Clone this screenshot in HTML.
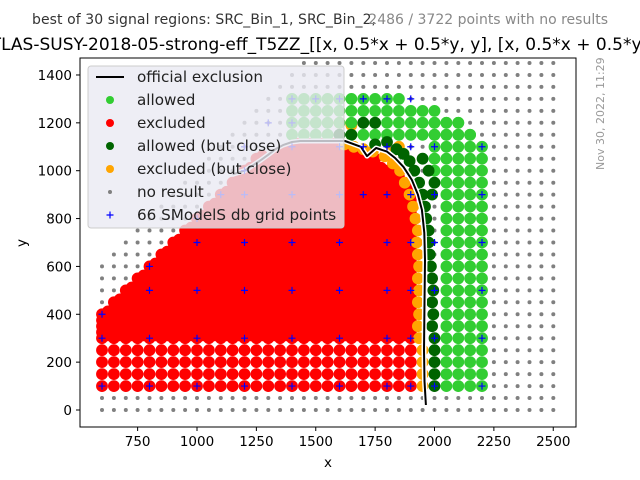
<!DOCTYPE html>
<html><head><meta charset="utf-8"><style>
body{margin:0;background:#fff;width:640px;height:480px;overflow:hidden;font-family:"DejaVu Sans","Liberation Sans",sans-serif}
svg{position:absolute;left:0;top:0}
</style></head><body>
<svg id="chart" width="640" height="480">
<defs><clipPath id="clip"><rect x="80" y="58" width="496" height="369"/></clipPath></defs>
<text x="32" y="24" font-size="14" fill="#333" textLength="344">best of 30 signal regions: SRC_Bin_1, SRC_Bin_2,</text>
<text x="608" y="24" font-size="14" text-anchor="end" fill="#888">2486 / 3722 points with no results</text>
<text x="328" y="50" font-size="17" text-anchor="middle" fill="#000">ATLAS-SUSY-2018-05-strong-eff_T5ZZ_[[x, 0.5*x + 0.5*y, y], [x, 0.5*x + 0.5*y, y]]</text>
<text transform="translate(604,170) rotate(-90)" font-size="11" fill="#999">Nov 30, 2022, 11:29</text>
<g id="marks" clip-path="url(#clip)"></g>
<rect x="80" y="58" width="496" height="369" fill="none" stroke="#000" stroke-width="1"/>
<g id="axes"></g>
<g id="legend"></g>
<text x="328" y="467" font-size="13.5" text-anchor="middle">x</text>
<text transform="translate(26,243) rotate(-90)" font-size="13.5" text-anchor="middle">y</text>
</svg>
<script>
const gridCols=[600,650,700,750,800,850,900,950,1000,1050,1100,1150,1200,1250,1300,1350,1400,1450,1500,1550,1600,1650,1700,1750,1800,1850,1900,1950,2000,2050,2100,2150,2200,2250,2300,2350,2400,2450,2500];
const grayTop=[600,650,700,750,800,850,900,950,1000,1050,1100,1150,1200,1250,1300,1350,1400,1450,1450,1450,1450,1450,1450,1450,1450,1450,1450,1450,1450,1450,1450,1450,1450,1450,1450,1450,1450,1450,1450];
const redCols=[600,650,700,750,800,850,900,950,1000,1050,1100,1150,1200,1250,1300,1350,1400,1450,1500,1550,1600,1650,1700,1750,1800,1850,1900];
const redTop=[400,450,500,550,600,650,700,750,800,850,900,950,1000,1050,1050,1075,1100,1100,1100,1100,1100,1075,1050,1050,1000,975,925];
const orangePts=[[1950,100],[1950,150],[1950,200],[1950,250],[1935,300],[1930,350],[1935,400],[1930,450],[1935,500],[1930,550],[1935,600],[1930,650],[1925,700],[1930,750],[1920,800],[1910,850],[1895,900],[1875,950],[1855,1000],[1825,1030],[1790,1060],[1740,1080],[1700,1090],[1660,1100],[1620,1110],[1650,1190],[1600,1200],[1850,1100],[1820,1080]];
const darkPts=[[2000,100],[2000,150],[2000,200],[2000,250],[2000,300],[1990,350],[1995,400],[1990,450],[1995,500],[1990,550],[1985,600],[1980,650],[1975,700],[1975,750],[1965,800],[1960,850],[1950,900],[1935,950],[1915,1000],[1895,1040],[1870,1070],[1840,1090],[1800,1120],[1750,1110],[1750,1200],[1650,1150],[1600,1150],[1700,1200],[1950,1050],[1975,1000],[2000,950],[1990,900]];
const greenCols=[2000,2050,2100,2150,2200];
const greenTop=[1200,1200,1200,1150,1100];
const greenBottom=[1000,100,100,100,100];
const greenRows=[1300,1250,1200,1150];
const greenRowFrom=[1400,1400,1400,1400];
const greenRowTo=[1850,2000,2100,2150];
const plusPts=[[600,100],[800,100],[1000,100],[1200,100],[1400,100],[1600,100],[1800,100],[1900,100],[2000,100],[2200,100],
[600,300],[800,300],[1000,300],[1200,300],[1400,300],[1600,300],[1800,300],[1900,300],[2000,300],[2200,300],
[600,400],[800,500],[1000,500],[1200,500],[1400,500],[1600,500],[1800,500],[1900,500],[2000,500],[2200,500],
[800,600],[1000,700],[1200,700],[1400,700],[1600,700],[1800,700],[1900,700],[2000,700],[2200,700],
[1000,800],[1200,900],[1400,900],[1600,900],[1700,900],[1800,900],[1900,900],[2000,900],[2200,900],
[1200,1000],[1400,1100],[1600,1100],[1700,1100],[1800,1100],[1900,1100],[2000,1100],[2200,1100],
[1400,1300],[1500,1300],[1600,1300],[1700,1300],[1800,1300],[1900,1300],[1300,1200],[1400,1200],[1200,1100],[1100,900]];
const exclX=[1150,1200,1232,1270,1299,1330,1362,1400,1434,1520,1623,1690,1716,1754,1800,1834,1870,1905,1930,1947,1957,1960,1958,1956,1958,1964];
const exclY=[985,1000,1020,1045,1066,1090,1107,1120,1124,1124,1124,1100,1061,1095,1080,1053,1015,961,900,836,740,627,450,251,120,21];
const xTicks=[750,1000,1250,1500,1750,2000,2250,2500];
const yTicks=[0,200,400,600,800,1000,1200,1400];

const sx=v=>197+(v-1000)*0.2375;
const sy=v=>410-v*0.2393;
const NS='http://www.w3.org/2000/svg';
const marks=document.getElementById('marks');
function circ(x,y,r,fill,name){const c=document.createElementNS(NS,'circle');c.setAttribute('cx',sx(x).toFixed(1));c.setAttribute('cy',sy(y).toFixed(1));c.setAttribute('r',r);c.setAttribute('fill',fill);


marks.appendChild(c);}
gridCols.forEach((x,i)=>{for(let y=0;y<=grayTop[i];y+=50)circ(x,y,2,'#808080','no-result-point');});
const R=5.9;
redCols.forEach((x,i)=>{for(let y=100;y<=250;y+=50)circ(x,y,R,'#ff0000','excluded-point');});
redCols.forEach((x,i)=>{for(let y=300;y<=redTop[i];y+=25){circ(x,y,R,'#ff0000','excluded-point');if(i<redCols.length-1&&y<=redTop[i+1])circ(x+25,y+12,R,'#ff0000','excluded-point');}});
orangePts.forEach(p=>circ(p[0],p[1],R,'#ffa500','excluded-close-point'));
greenCols.forEach((x,i)=>{for(let y=greenBottom[i];y<=greenTop[i];y+=50)circ(x,y,R,'#32cd32','allowed-point');});
greenRows.forEach((y,i)=>{for(let x=greenRowFrom[i];x<=greenRowTo[i];x+=50)circ(x,y,R,'#32cd32','allowed-point');});
darkPts.forEach(p=>circ(p[0],p[1],R,'#006400','allowed-close-point'));
let d=exclX.map((x,i)=>(i?'L':'M')+sx(x).toFixed(1)+','+sy(exclY[i]).toFixed(1)).join(' ');
const halo=document.createElementNS(NS,'path');halo.setAttribute('d',d);halo.setAttribute('fill','none');halo.setAttribute('stroke','#fff');halo.setAttribute('stroke-width','5');halo.setAttribute('stroke-linejoin','round');


marks.appendChild(halo);
const ln=document.createElementNS(NS,'path');ln.setAttribute('d',d);ln.setAttribute('fill','none');ln.setAttribute('stroke','#000');ln.setAttribute('stroke-width','2');ln.setAttribute('stroke-linejoin','round');


marks.appendChild(ln);
plusPts.forEach(p=>{const t=document.createElementNS(NS,'path');const X=sx(p[0]),Y=sy(p[1]);t.setAttribute('d',`M${X-3.5},${Y}H${X+3.5}M${X},${Y-3.5}V${Y+3.5}`);t.setAttribute('stroke','#0000ff');t.setAttribute('stroke-width','1.2');


marks.appendChild(t);});
const axes=document.getElementById('axes');
xTicks.forEach(v=>{const X=sx(v);const l=document.createElementNS(NS,'line');l.setAttribute('x1',X);l.setAttribute('x2',X);l.setAttribute('y1',427);l.setAttribute('y2',431);l.setAttribute('stroke','#000');


axes.appendChild(l);const t=document.createElementNS(NS,'text');t.setAttribute('x',X);t.setAttribute('y',446);t.setAttribute('font-size','13.5');t.setAttribute('text-anchor','middle');t.textContent=v;


axes.appendChild(t);});
yTicks.forEach(v=>{const Y=sy(v);const l=document.createElementNS(NS,'line');l.setAttribute('x1',76);l.setAttribute('x2',80);l.setAttribute('y1',Y);l.setAttribute('y2',Y);l.setAttribute('stroke','#000');


axes.appendChild(l);const t=document.createElementNS(NS,'text');t.setAttribute('x',72);t.setAttribute('y',Y+5);t.setAttribute('font-size','13.5');t.setAttribute('text-anchor','end');t.textContent=v;


axes.appendChild(t);});
const lg=document.getElementById('legend');
lg.innerHTML=`<rect x="88" y="66" width="256" height="162" rx="3" fill="rgba(234,234,242,0.8)" stroke="#ccc"/>
<line x1="96" y1="77" x2="124" y2="77" stroke="#000" stroke-width="2"/>
<circle cx="110" cy="100" r="4" fill="#32cd32"/>
<circle cx="110" cy="123" r="4" fill="#ff0000"/>
<circle cx="110" cy="146" r="4" fill="#006400"/>
<circle cx="110" cy="169" r="4" fill="#ffa500"/>
<circle cx="110" cy="192" r="2" fill="#808080"/>
<path d="M106.5,215H113.5M110,211.5V218.5" stroke="#0000ff" stroke-width="1.2"/>
<g font-size="15.2" fill="#222">
<text x="137" y="82">official exclusion</text>
<text x="137" y="105">allowed</text>
<text x="137" y="128">excluded</text>
<text x="137" y="151">allowed (but close)</text>
<text x="137" y="174">excluded (but close)</text>
<text x="137" y="197">no result</text>
<text x="137" y="220">66 SModelS db grid points</text>
</g>`;
</script>
</body></html>
